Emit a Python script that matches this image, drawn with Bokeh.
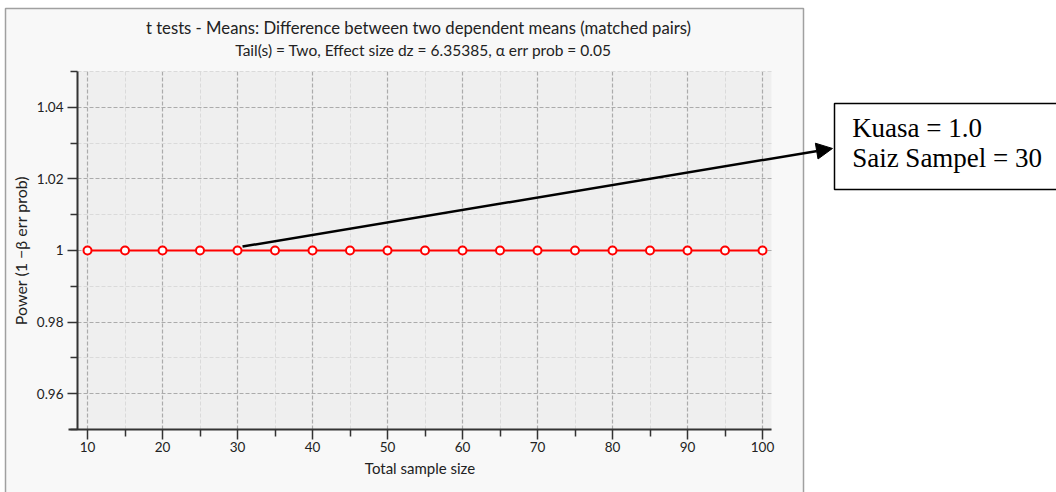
from bokeh.plotting import figure
from bokeh.models import (Range1d, FixedTicker, Label, Arrow, NormalHead,
                          BoxAnnotation)
from bokeh.embed import file_html
from bokeh.resources import INLINE

# ---- data ----
sample_sizes = [10, 15, 20, 25, 30, 35, 40, 45, 50, 55, 60, 65, 70, 75, 80, 85, 90, 95, 100]
power = [1.0, 1.0, 1.0, 1.0, 1.0, 1.0, 1.0, 1.0, 1.0, 1.0, 1.0, 1.0, 1.0, 1.0, 1.0, 1.0, 1.0, 1.0, 1.0]
x_major = [10, 20, 30, 40, 50, 60, 70, 80, 90, 100]
x_minor = [15, 25, 35, 45, 55, 65, 75, 85, 95]
y_major = [0.96, 0.98, 1.0, 1.02, 1.04]
y_major_labels = ["0.96", "0.98", "1", "1.02", "1.04"]
y_minor = [0.95, 0.97, 0.99, 1.01, 1.03, 1.05]
title_text = "t tests - Means: Difference between two dependent means (matched pairs)"
subtitle_text = "Tail(s) = Two, Effect size dz = 6.35385, \u03b1 err prob = 0.05"
callout_lines = ["Kuasa = 1.0", "Saiz Sampel = 30"]
arrow_from = (30.67, 1.0011)
arrow_to = (109.33, 1.0285)

# plot-area extent (data units)
X0, X1 = 8.667, 101.2
Y0, Y1 = 0.95, 1.05

FONT = "Lato"

p = figure(width=1056, height=492, output_backend="svg", toolbar_location=None,
           x_range=Range1d(-1.6, 139.2), y_range=Range1d(0.932402, 1.069832),
           min_border_left=0, min_border_right=0, min_border_top=0,
           min_border_bottom=0)
p.border_fill_color = "white"
p.background_fill_color = "white"
p.outline_line_color = None

# panel (grey window) and plot area
p.add_layout(BoxAnnotation(left=-0.933, right=105.467, top=1.0676, bottom=0.90,
                           fill_color="#f8f8f8", fill_alpha=1.0,
                           line_color="#a0a0a0", line_alpha=1.0, line_width=1.5,
                           level="image"))
p.add_layout(BoxAnnotation(left=X0, right=X1, top=Y1, bottom=Y0,
                           fill_color="#efefef", fill_alpha=1.0,
                           line_color=None, level="image"))

# axes
p.xaxis.fixed_location = Y0
p.yaxis.fixed_location = X0
p.xaxis.bounds = (7.5, X1)
p.yaxis.bounds = (Y0, Y1)
for ax in (p.xaxis[0], p.yaxis[0]):
    ax.axis_line_color = "#333333"
    ax.axis_line_width = 2
    ax.major_tick_line_color = "#333333"
    ax.minor_tick_line_color = "#333333"
    ax.major_tick_line_width = 1.5
    ax.minor_tick_line_width = 1.5
    ax.major_tick_out = 10
    ax.major_tick_in = 0
    ax.minor_tick_out = 7
    ax.minor_tick_in = 0
    ax.major_label_text_font = FONT
    ax.major_label_text_font_size = "13.5px"
    ax.major_label_text_color = "#222222"
    ax.axis_label_text_font = FONT
    ax.axis_label_text_font_size = "15px"
    ax.axis_label_text_font_style = "normal"
    ax.axis_label_text_color = "#222222"

p.xaxis.ticker = FixedTicker(ticks=x_major, minor_ticks=x_minor)
p.yaxis.ticker = FixedTicker(ticks=y_major, minor_ticks=y_minor)
p.yaxis.major_label_overrides = {v: s for v, s in zip(y_major, y_major_labels)}
p.xaxis.axis_label = "Total sample size"
p.yaxis.axis_label = "Power (1 \u2212\u03b2 err prob)"
p.yaxis.axis_label_text_font_size = "16px"
p.xaxis.major_label_standoff = 3
p.yaxis.major_label_standoff = 4
p.xaxis.axis_label_standoff = 3
p.yaxis.axis_label_standoff = 4

# grid
p.xgrid.ticker = FixedTicker(ticks=x_major, minor_ticks=x_minor)
p.ygrid.ticker = FixedTicker(ticks=y_major, minor_ticks=y_minor)
p.xgrid.cross_bounds = (Y0, Y1)
p.ygrid.cross_bounds = (X0, X1)
p.xgrid.bounds = (X0, X1)
p.ygrid.bounds = (Y0, Y1)
for g in (p.xgrid[0], p.ygrid[0]):
    g.grid_line_color = "#ababab"
    g.grid_line_dash = "4 2"
    g.grid_line_width = 1.2
    g.minor_grid_line_color = "#dadada"
    g.minor_grid_line_dash = "4 2"
    g.minor_grid_line_width = 1

# data
p.line(sample_sizes, power, line_color="#ff0000", line_width=2)
p.scatter(sample_sizes, power, size=8, fill_color="white", line_color="#ff0000",
          line_width=2)

# titles
p.add_layout(Label(x=54.13, y=1.06229, text=title_text, text_align="center",
                   text_baseline="middle", text_font=FONT,
                   text_font_size="16.7px", text_color="#222222"))
p.add_layout(Label(x=54.8, y=1.05587, text=subtitle_text, text_align="center",
                   text_baseline="middle", text_font=FONT,
                   text_font_size="15.5px", text_color="#222222"))

# callout box
p.add_layout(BoxAnnotation(left=109.6, right=160, top=1.04106, bottom=1.01704,
                           fill_color="white", fill_alpha=1.0,
                           line_color="black", line_alpha=1.0, line_width=1.5,
                           level="overlay"))
p.add_layout(Arrow(x_start=arrow_from[0], y_start=arrow_from[1],
                   x_end=arrow_to[0], y_end=arrow_to[1],
                   line_color="black", line_width=2.5,
                   end=NormalHead(size=16, fill_color="black", line_color="black")))
p.add_layout(Label(x=111.95, y=1.03414, text=callout_lines[0], text_align="left",
                   text_baseline="alphabetic", text_font="Liberation Serif",
                   text_font_size="27px", text_color="black", level="overlay"))
p.add_layout(Label(x=111.95, y=1.02577, text=callout_lines[1], text_align="left",
                   text_baseline="alphabetic", text_font="Liberation Serif",
                   text_font_size="27px", text_color="black", level="overlay"))

open("out.html", "w").write(file_html(p, INLINE))
